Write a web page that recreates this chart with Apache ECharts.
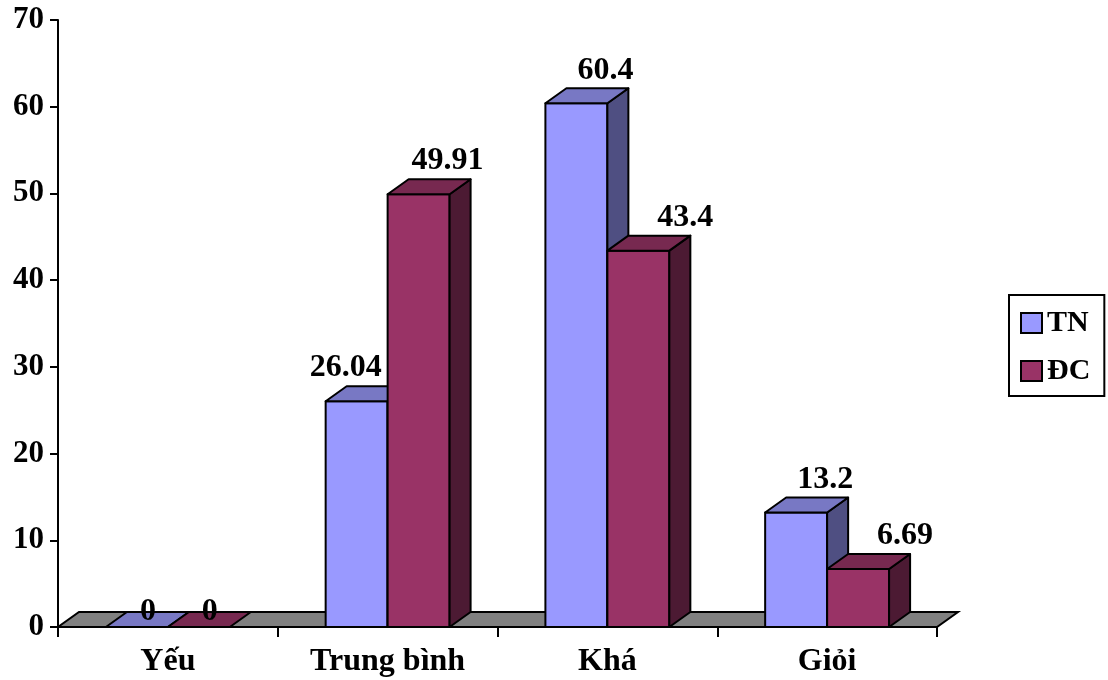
<!DOCTYPE html>
<html lang="vi">
<head>
<meta charset="UTF-8">
<title>index</title>
<script src="https://cdn.jsdelivr.net/npm/echarts@6/dist/echarts.min.js"></script>
<style>
  html, body { margin: 0; padding: 0; background: #fff; }
  #chart { width: 1108px; height: 680px; }
</style>
</head>
<body>
<div id="chart"></div>
<script>
// du lieu
var categories = ['Yếu', 'Trung bình', 'Khá', 'Giỏi'];
var seriesNames = ['TN', 'ĐC'];
var tnValues = [0, 26.04, 60.4, 13.2];
var dcValues = [0, 49.91, 43.4, 6.69];
var yTicks = [0, 10, 20, 30, 40, 50, 60, 70];

var FONT = '"Liberation Serif", "Times New Roman", serif';
var DX = 21, DY = 15; // chieu sau 3D
// mau: mat truoc, mat tren, mat ben
var colors = [
  ['#9999ff', '#7878c4', '#4f4f82'],
  ['#993366', '#772950', '#4c1a33']
];

var mChart = echarts.init(document.getElementById('chart'));

function barRender(sIdx, own, other) {
  return function (params, api) {
    var ci = api.value(0), v = api.value(1);
    var top = api.coord([ci, v]);
    var base = api.coord([ci, 0]);
    var band = api.size([1, 0])[0];
    var w = band * 0.282;
    var x0 = sIdx === 0 ? top[0] - w : top[0];
    var x1 = x0 + w;
    var yt = top[1], yb = base[1];
    var c = colors[sIdx];
    var ls = { stroke: '#000', lineWidth: 2, lineJoin: 'round' };
    var children = [];
    if (yb - yt > 0.5) {
      children.push({ type: 'rect', shape: { x: x0, y: yt, width: w, height: yb - yt },
        style: Object.assign({ fill: c[0] }, ls) });
      children.push({ type: 'polygon', shape: { points: [[x1, yt], [x1 + DX, yt - DY], [x1 + DX, yb - DY], [x1, yb]] },
        style: Object.assign({ fill: c[2] }, ls) });
    }
    children.push({ type: 'polygon', shape: { points: [[x0, yt], [x1, yt], [x1 + DX, yt - DY], [x0 + DX, yt - DY]] },
      style: Object.assign({ fill: c[1] }, ls) });
    // nhan gia tri
    var mid = (x0 + x1) / 2 + DX;
    var lx = mid + 8, ly = yt - DY - 18, align = 'center';
    if (v === 0) { lx = mid - 10; ly = yt - DY; }
    else if (other[ci] > v && sIdx === 0) { lx = x1 - 6; align = 'right'; }
    else if (other[ci] > v) { lx = mid - 2; align = 'left'; }
    children.push({ type: 'text', z2: 10, style: {
      x: lx, y: ly, text: String(v), align: align, verticalAlign: 'middle',
      font: 'bold 32px ' + FONT, fill: '#000' } });
    return { type: 'group', children: children };
  };
}

function toData(arr) {
  return arr.map(function (v, i) { return [i, v]; });
}

var option = {
  backgroundColor: '#fff',
  animation: false,
  grid: { left: 58, right: 171, top: 20, bottom: 53 },
  legend: {
    data: seriesNames,
    orient: 'vertical',
    left: 1009, top: 295,
    icon: 'rect',
    itemWidth: 21, itemHeight: 20,
    itemGap: 18,
    padding: [13, 14, 10, 11],
    borderColor: '#000', borderWidth: 2,
    backgroundColor: '#fff',
    itemStyle: { borderColor: '#000', borderWidth: 2 },
    textStyle: { fontFamily: FONT, fontWeight: 'bold', fontSize: 30, color: '#000', lineHeight: 28 }
  },
  xAxis: {
    type: 'category',
    data: categories,
    boundaryGap: true,
    axisLine: { show: true, lineStyle: { color: '#000', width: 2 } },
    axisTick: { show: true, length: 10, lineStyle: { color: '#000', width: 2 } },
    axisLabel: { margin: 19, color: '#000', fontFamily: FONT, fontWeight: 'bold', fontSize: 32 },
    splitLine: { show: false }
  },
  yAxis: {
    type: 'value',
    min: yTicks[0], max: yTicks[yTicks.length - 1], interval: yTicks[1] - yTicks[0],
    axisLine: { show: true, lineStyle: { color: '#000', width: 2 } },
    axisTick: { show: true, length: 8, lineStyle: { color: '#000', width: 2 } },
    axisLabel: { margin: 14, color: '#000', fontFamily: FONT, fontWeight: 'bold', fontSize: 31 },
    splitLine: { show: false }
  },
  series: [
    {
      name: 'san',
      type: 'custom',
      clip: false,
      silent: true,
      data: [[0, 0]],
      renderItem: function (params, api) {
        var cs = params.coordSys;
        var y = cs.y + cs.height;
        return { type: 'polygon', shape: { points: [[cs.x, y], [cs.x + cs.width, y],
            [cs.x + cs.width + DX, y - DY], [cs.x + DX, y - DY]] },
          style: { fill: '#808080', stroke: '#000', lineWidth: 2 } };
      }
    },
    {
      name: seriesNames[0], type: 'custom', clip: false,
      itemStyle: { color: colors[0][0] },
      encode: { x: 0, y: 1 },
      data: toData(tnValues),
      renderItem: barRender(0, tnValues, dcValues)
    },
    {
      name: seriesNames[1], type: 'custom', clip: false,
      itemStyle: { color: colors[1][0] },
      encode: { x: 0, y: 1 },
      data: toData(dcValues),
      renderItem: barRender(1, dcValues, tnValues)
    }
  ]
};

mChart.setOption(option);
</script>
</body>
</html>
